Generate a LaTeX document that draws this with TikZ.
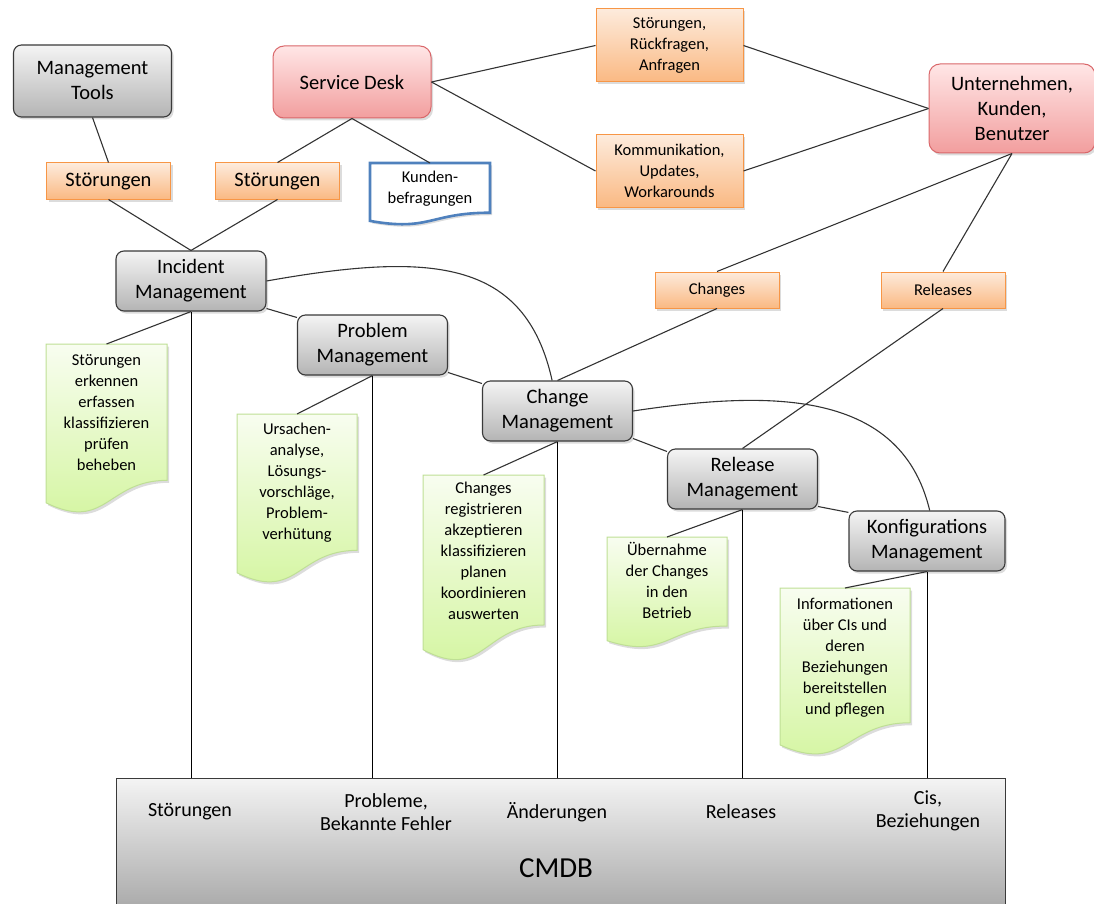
\documentclass[tikz,border=0pt]{standalone}
\usepackage{fontspec}
\setmainfont{Carlito}
\usetikzlibrary{shadows}

\definecolor{gtop}{HTML}{F4F4F4}
\definecolor{gbot}{HTML}{B4B4B4}
\definecolor{boxline}{HTML}{3A3A3A}
\definecolor{otop}{HTML}{FDEBDC}
\definecolor{obot}{HTML}{FAB983}
\definecolor{oline}{HTML}{F79646}
\definecolor{rtop}{HTML}{FFE6E6}
\definecolor{rbot}{HTML}{F29E9E}
\definecolor{rline}{HTML}{D9676A}
\definecolor{ntop}{HTML}{F8FDF0}
\definecolor{nbot}{HTML}{D2F59C}
\definecolor{nline}{HTML}{BFDF95}
\definecolor{sline}{HTML}{4F81BD}
\definecolor{lk}{HTML}{333333}

\newcommand{\fBig}{\fontsize{20.5}{25}\selectfont}
\newcommand{\fMed}{\fontsize{16.5}{21}\selectfont}
\newcommand{\fCm}{\fontsize{20}{23}\selectfont}
\newcommand{\fTitle}{\fontsize{29}{34}\selectfont}

% document-shaped box with a wavy lower edge
% #1 style, #2 name, #3 left, #4 top, #5 width, #6 height, #7 text offset, #8 text
\newcommand{\docnote}[8]{%
  \begin{scope}[shift={(#3,#4)}]
    \path[#1] (0,0) -- (#5,0) -- (#5,{0.802*#6})
      .. controls ({#5/2},{0.802*#6}) and ({#5/2},{1.1075*#6}) .. (0,{0.934*#6}) -- cycle;
    \coordinate (#2-top) at ({#5/2},0);
    \node[notetext, anchor=north] (#2) at ({#5/2},#7) {#8};
  \end{scope}}

\begin{document}
\begin{tikzpicture}[x=1pt,y=-1pt,
  shadowed/.style={drop shadow={opacity=0.28, shadow xshift=2pt, shadow yshift=-2.5pt}},
  base/.style={align=center, inner sep=2pt, shadowed},
  graybox/.style={base, draw=boxline, line width=1.1pt, rounded corners=8pt,
    top color=gtop, bottom color=gbot, minimum width=150pt, minimum height=60pt, font=\fBig},
  redbox/.style={base, draw=rline, line width=1pt, rounded corners=11pt,
    top color=rtop, bottom color=rbot, font=\fBig},
  orangebox/.style={base, draw=oline, line width=1pt, top color=otop, bottom color=obot},
  notebox/.style={draw=nline, line width=1pt, top color=ntop, bottom color=nbot, shadowed},
  surveybox/.style={draw=sline, line width=2.6pt, fill=white, shadowed},
  notetext/.style={align=center, inner sep=0pt, font=\fMed},
  link/.style={draw=lk, line width=1.1pt},
  drop/.style={draw=black, line width=1pt},
  cmlabel/.style={align=center, inner sep=0pt, font=\fCm}
]
\useasboundingbox (0,0) rectangle (1094,904);

% ---- database at the bottom
\node[draw=boxline, line width=1pt, top color=gtop, bottom color=gbot!85!black,
      minimum width=889pt, minimum height=160pt, inner sep=0pt] (cmdb) at (560.5,858) {};
\node[cmlabel] (db1) at (190,812) {Störungen};
\node[cmlabel] (db2) at (386,812) {Probleme,\\Bekannte Fehler};
\node[cmlabel] (db3) at (557,812) {Änderungen};
\node[cmlabel] (db4) at (741,812) {Releases};
\node[cmlabel] (db5) at (928,811) {Cis,\\Beziehungen};
\node[inner sep=0pt, font=\fTitle] (dbtitle) at (556,868) {CMDB};

% ---- top row
\node[graybox, minimum width=158pt, minimum height=72pt] (tools) at (92.5,81) {Management\\Tools};
\node[redbox, minimum width=158pt, minimum height=72pt] (desk) at (352,82) {Service Desk};
\node[orangebox, minimum width=124pt, minimum height=36pt, font=\fBig] (st1) at (108.5,181) {Störungen};
\node[orangebox, minimum width=124pt, minimum height=36pt, font=\fBig] (st2) at (277.5,181) {Störungen};
\docnote{surveybox}{survey}{370}{163}{120}{62}{8}{Kunden-\\befragungen}
\node[orangebox, minimum width=147pt, minimum height=73pt, font=\fMed] (sra) at (669.5,45.5) {Störungen,\\Rückfragen,\\Anfragen};
\node[orangebox, minimum width=147pt, minimum height=72pt, font=\fMed] (kuw) at (669.5,171) {Kommunikation,\\Updates,\\Workarounds};
\node[redbox, minimum width=166pt, minimum height=89pt] (users) at (1012,108.5) {Unternehmen,\\Kunden,\\Benutzer};
\node[orangebox, minimum width=124pt, minimum height=36pt, font=\fMed] (changes) at (717,290) {Changes};
\node[orangebox, minimum width=124pt, minimum height=36pt, font=\fMed] (releases) at (943,290) {Releases};

% ---- process chain
\node[graybox] (inc)  at (191,281)   {Incident\\Management};
\node[graybox] (prob) at (372.5,345) {Problem\\Management};
\node[graybox] (chg)  at (557.5,411) {Change\\Management};
\node[graybox] (rel)  at (742.5,479) {Release\\Management};
\node[graybox, minimum width=156pt] (konf) at (927,541) {Konfigurations\\Management};

% ---- task notes
\docnote{notebox}{n1}{46}{344}{121}{170}{10}{Störungen\\erkennen\\erfassen\\klassifizieren\\prüfen\\beheben}
\docnote{notebox}{n2}{237}{414}{120}{170}{9}{Ursachen-\\analyse,\\Lösungs-\\vorschläge,\\Problem-\\verhütung}
\docnote{notebox}{n3}{423}{475}{121}{187}{7}{Changes\\registrieren\\akzeptieren\\klassifizieren\\planen\\koordinieren\\auswerten}
\docnote{notebox}{n4}{607}{537}{120}{111}{5}{Übernahme\\der Changes\\in den\\Betrieb}
\docnote{notebox}{n5}{780}{588}{130}{168}{10}{Informationen\\über CIs und\\deren\\Beziehungen\\bereitstellen\\und pflegen}

% ---- connectors
\draw[link] (tools.south) -- (st1.north);
\draw[link] (st1.south) -- (inc.north);
\draw[link] (desk.south) -- (st2.north);
\draw[link] (st2.south) -- (inc.north);
\draw[link] (desk.south) -- (survey-top);
\draw[link] (desk.east) -- (sra.west);
\draw[link] (desk.east) -- (kuw.west);
\draw[link] (sra.east) -- (users.west);
\draw[link] (kuw.east) -- (users.west);
\draw[link] (users.south) -- (changes.north);
\draw[link] (users.south) -- (releases.north);
\draw[link] (changes.south) -- (chg.north);
\draw[link] (releases.south) -- (rel.north);

\draw[link] (inc.-20) -- (prob.160);
\draw[link] (prob.-20) -- (chg.160);
\draw[link] (chg.-20) -- (rel.160);
\draw[link] (rel.-20) -- (konf.160);

\draw[link] (inc.east) .. controls (430,252) and (525,258) .. (chg.100);
\draw[link] (chg.east) .. controls (760,392) and (900,385) .. (konf.85);

\draw[link] (inc.south) -- (n1-top);
\draw[link] (prob.south) -- (n2-top);
\draw[link] (chg.south) -- (n3-top);
\draw[link] (rel.south) -- (n4-top);
\draw[link] (konf.south) -- (n5-top);

\draw[drop] (inc.south) -- (inc.south |- cmdb.north);
\draw[drop] (prob.south) -- (prob.south |- cmdb.north);
\draw[drop] (chg.south) -- (chg.south |- cmdb.north);
\draw[drop] (rel.south) -- (rel.south |- cmdb.north);
\draw[drop] (konf.south) -- (konf.south |- cmdb.north);
\end{tikzpicture}
\end{document}
